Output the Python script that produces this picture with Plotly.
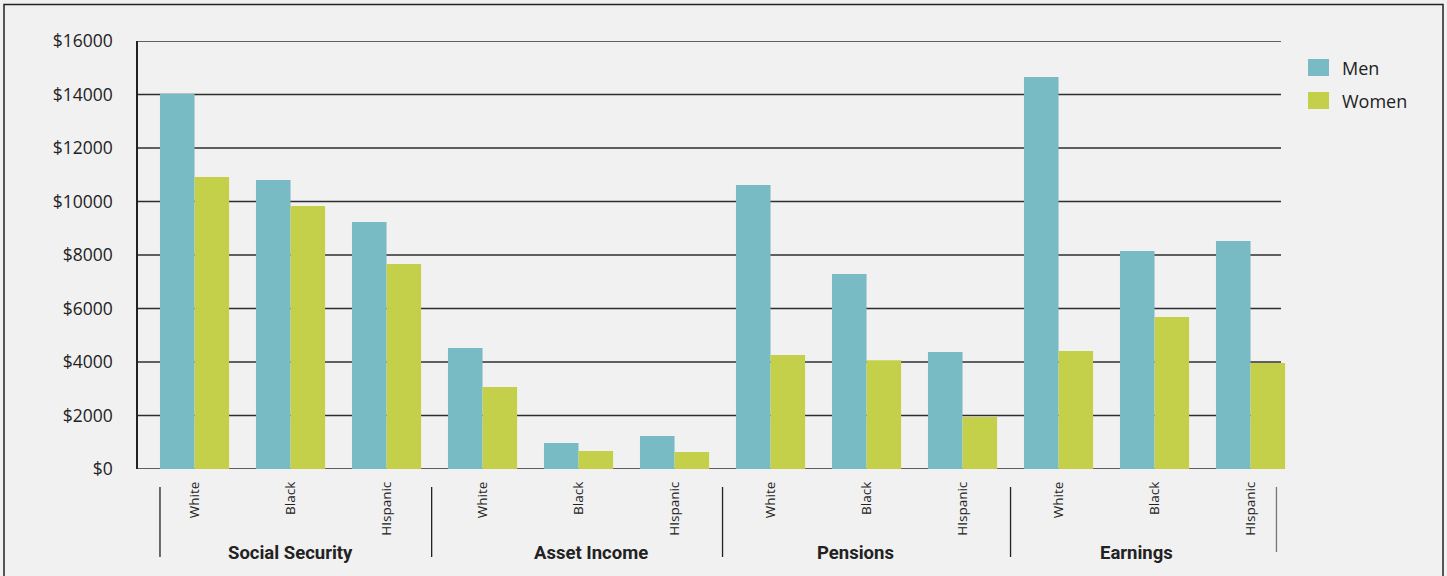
import plotly.graph_objects as go

# ---- data ----
groups = ["Social Security", "Asset Income", "Pensions", "Earnings"]
races = ["White", "Black", "HIspanic"]
men = [14020, 10800, 9230, 4520, 970, 1230, 10620, 7290, 4370, 14650, 8150, 8520]
women = [10920, 9830, 7660, 3070, 670, 640, 4260, 4070, 1940, 4410, 5680, 3960]
y_ticks = [0, 2000, 4000, 6000, 8000, 10000, 12000, 14000, 16000]
y_tick_labels = ["$" + str(v) for v in y_ticks]
series_names = ["Men", "Women"]

MEN_C = "#79bbc4"
WOMEN_C = "#c4d04a"
BG = "#f1f1f1"

n = len(groups) * len(races)
xpos = list(range(n))
cat_labels = [r for g in groups for r in races]

fig = go.Figure()
fig.add_trace(go.Bar(x=xpos, y=men, name=series_names[0], marker=dict(color=MEN_C, line=dict(width=0))))
fig.add_trace(go.Bar(x=xpos, y=women, name=series_names[1], marker=dict(color=WOMEN_C, line=dict(width=0))))

# layout geometry
L, R, T, B = 138, 147, 41, 107
W, H = 1447, 576
plot_w = W - L - R
plot_h = H - T - B
x0 = -0.589
unit = 96.0
x1 = x0 + plot_w / unit
grid_end = x0 + (1281 - L) / unit


def px_x(p):
    return (p - L) / plot_w


def px_y(p):
    return (T + plot_h - p) / plot_h


shapes = []
for v in y_ticks:
    shapes.append(dict(type="line", xref="x", yref="y", x0=x0, x1=grid_end, y0=v, y1=v,
                       line=dict(color="#2e2e2e", width=1.4), layer="below"))
# group separators
seps = [-0.36, 2.47, 5.5, 8.5, 11.27]
for i, s in enumerate(seps):
    shapes.append(dict(type="line", xref="x", yref="paper", x0=s, x1=s,
                       y0=px_y(487), y1=px_y(557) if i < 4 else px_y(552),
                       line=dict(color="#222" if i < 4 else "#777", width=1.3)))
# outer frame
shapes.append(dict(type="rect", xref="paper", yref="paper",
                   x0=px_x(4), x1=px_x(1443), y0=px_y(600), y1=px_y(4.5),
                   line=dict(color="#222", width=1.5), fillcolor="rgba(0,0,0,0)", layer="below"))

# legend (drawn)
annotations = []
leg_colors = [MEN_C, WOMEN_C]
for i, (nm, c) in enumerate(zip(series_names, leg_colors)):
    cy = 67 + i * 33
    shapes.append(dict(type="rect", xref="paper", yref="paper",
                       x0=px_x(1308), x1=px_x(1329), y0=px_y(cy + 9), y1=px_y(cy - 8),
                       line=dict(width=0), fillcolor=c))
    annotations.append(dict(x=px_x(1340), y=px_y(cy + 1), xref="paper", yref="paper",
                            text=nm, showarrow=False, xanchor="left", yanchor="middle",
                            font=dict(family="Open Sans, sans-serif", size=18, color="#222")))

group_label_shift = [0, 12, -11, -18]
for gi, g in enumerate(groups):
    cx = gi * len(races) + (len(races) - 1) / 2
    annotations.append(dict(x=cx, xref="x", y=px_y(553), yref="paper", xshift=group_label_shift[gi],
                            text="<b>" + g + "</b>", showarrow=False, yanchor="middle",
                            font=dict(family="Roboto, sans-serif", size=18.5, color="#222")))

fig.update_layout(
    width=W, height=H,
    margin=dict(l=L, r=R, t=T, b=B, pad=0),
    paper_bgcolor=BG, plot_bgcolor=BG,
    barmode="group", bargap=0.28, bargroupgap=0,
    showlegend=False,
    xaxis=dict(range=[x0, x1], tickmode="array", tickvals=xpos, ticktext=cat_labels,
               tickangle=-90, showgrid=False, zeroline=False, showline=False, ticks="",
               ticklabelstandoff=9,
               tickfont=dict(family="Open Sans, sans-serif", size=13.5, color="#222")),
    yaxis=dict(range=[0, 16000], tickmode="array", tickvals=y_ticks, ticktext=y_tick_labels,
               showgrid=False, zeroline=False, showline=True, linecolor="#222", linewidth=1.5,
               ticks="", ticklabelstandoff=20,
               tickfont=dict(family="Open Sans, sans-serif", size=17.5, color="#222")),
    shapes=shapes, annotations=annotations,
    font=dict(family="Open Sans, sans-serif"),
)

fig.write_html("out.html", config={"displayModeBar": False},
               post_script="document.body.style.margin='0';document.body.style.padding='0';document.body.style.background='" + BG + "';")
